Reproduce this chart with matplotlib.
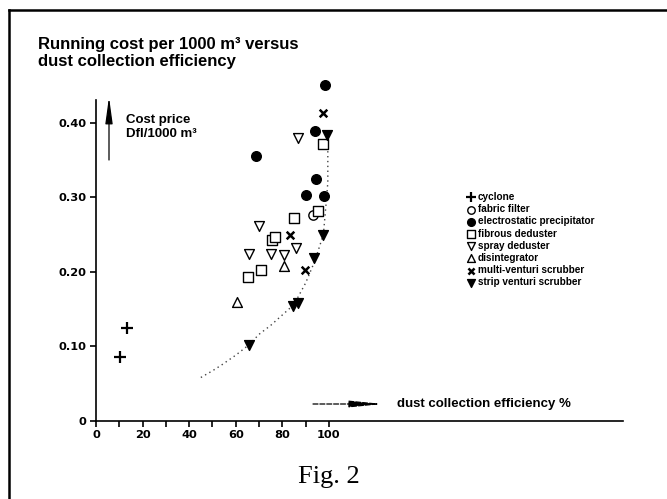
import matplotlib
matplotlib.use("Agg")
import matplotlib.pyplot as plt
from matplotlib.lines import Line2D

# Running cost (Dfl per 1000 m3) against collection efficiency (%)
cyclone_x = [10.3, 13.4]
cyclone_y = [0.085, 0.124]
fabric_x = [93.3]
fabric_y = [0.276]
electro_x = [98.3, 94.1, 68.5, 94.3, 90.0, 98.0]
electro_y = [0.450, 0.389, 0.355, 0.324, 0.303, 0.302]
fibrous_x = [97.3, 95.1, 85.1, 75.5, 76.9, 70.7, 65.4]
fibrous_y = [0.371, 0.281, 0.272, 0.2425, 0.246, 0.202, 0.193]
spray_x = [86.6, 70.0, 85.8, 65.5, 75.2, 80.5]
spray_y = [0.379, 0.262, 0.232, 0.224, 0.224, 0.223]
disint_x = [80.5, 60.4]
disint_y = [0.207, 0.160]
multi_x = [97.3, 83.1, 89.7]
multi_y = [0.413, 0.249, 0.202]
strip_x = [99.3, 97.6, 93.7, 84.7, 86.8, 65.7]
strip_y = [0.383, 0.249, 0.219, 0.154, 0.158, 0.1016]

# trend through the strip venturi scrubbers
trend_x = [45, 50, 54, 60, 65.7, 70, 75, 80, 85, 90, 92, 94, 97.6, 99, 99.5, 99.5]
trend_y = [0.058, 0.067, 0.075, 0.088, 0.102, 0.116, 0.128, 0.142, 0.156, 0.185,
           0.200, 0.215, 0.250, 0.300, 0.320, 0.385]

x_ticks = [0, 10, 20, 30, 40, 50, 60, 70, 80, 90, 100]
x_labels = ["0", "", "20", "", "40", "", "60", "", "80", "", "100"]
y_ticks = [0, 0.10, 0.20, 0.30, 0.40]
y_labels = ["0", "0.10", "0.20", "0.30", "0.40"]

W, H = 667, 499
fig = plt.figure(figsize=(W / 100, H / 100), dpi=100)
ax = fig.add_axes([96 / W, 1 - 420.7 / H, (623 - 96) / W, (420.7 - 100) / H])
ax.set_xlim(0, 226.2)
ax.set_ylim(0, 0.4305)

for s in ("top", "right"):
    ax.spines[s].set_visible(False)
for s in ("left", "bottom"):
    ax.spines[s].set_linewidth(1.2)

ax.set_xticks(x_ticks)
ax.set_xticklabels(x_labels)
ax.set_yticks(y_ticks)
ax.set_yticklabels(y_labels)
ax.tick_params(direction="out", length=4, width=1.2, pad=3)
for lab in ax.get_xticklabels() + ax.get_yticklabels():
    lab.set_fontfamily("DejaVu Sans")
    lab.set_fontweight("bold")
    lab.set_fontsize(8.2)

ax.plot(trend_x, trend_y, linestyle=(0, (1, 2.5)), color="#444444", lw=1.0,
        clip_on=False, zorder=1)

open_kw = dict(facecolor="white", edgecolor="black", linewidths=1.0, clip_on=False, zorder=3)
ax.scatter(cyclone_x, cyclone_y, marker="+", s=70, color="black", linewidths=1.6,
           clip_on=False, zorder=3, label="cyclone")
ax.scatter(fabric_x, fabric_y, marker="o", s=45, label="fabric filter", **open_kw)
ax.scatter(electro_x, electro_y, marker="o", s=48, color="black", clip_on=False,
           zorder=3, label="electrostatic precipitator")
ax.scatter(fibrous_x, fibrous_y, marker="s", s=45, label="fibrous deduster", **open_kw)
ax.scatter(spray_x, spray_y, marker="v", s=50, label="spray deduster", **open_kw)
ax.scatter(disint_x, disint_y, marker="^", s=50, label="disintegrator", **open_kw)
ax.scatter(multi_x, multi_y, marker="x", s=30, color="black", linewidths=1.8,
           clip_on=False, zorder=3, label="multi-venturi scrubber")
ax.scatter(strip_x, strip_y, marker="v", s=50, color="black", clip_on=False,
           zorder=3, label="strip venturi scrubber")

leg = ax.legend(loc="upper left", bbox_to_anchor=(467 / W, 1 - 192 / H),
                bbox_transform=fig.transFigure, frameon=False,
                prop={"family": "Liberation Sans", "weight": "bold", "size": 7.2},
                handlelength=0.8, handletextpad=0.3, labelspacing=0.22,
                borderpad=0, borderaxespad=0, scatterpoints=1, markerscale=0.8)

# title and axis captions (baseline is that of the last line)
fig.text(38 / W, 1 - 65.7 / H, "Running cost per 1000 m³ versus\ndust collection efficiency",
         family="Liberation Sans", weight="bold", fontsize=12, va="baseline",
         linespacing=1.15)
fig.text(126 / W, 1 - 137.3 / H, "Cost price\nDfl/1000 m³", family="Liberation Sans",
         weight="bold", fontsize=9.5, va="baseline", linespacing=1.2)
fig.text(397 / W, 1 - 404 / H, "dust collection efficiency %", family="Liberation Sans",
         weight="bold", fontsize=9.5, va="center")
fig.text(298 / W, 1 - 483 / H, "Fig. 2", family="Liberation Serif", fontsize=19,
         va="baseline")

# direction arrows next to the captions
ax.annotate("", xy=(109 / W, 1 - 97 / H), xytext=(109 / W, 1 - 160 / H),
            xycoords="figure fraction", textcoords="figure fraction",
            arrowprops=dict(arrowstyle="-|>,head_length=1.6,head_width=0.22",
                            color="black", lw=0.9, shrinkA=0, shrinkB=0))
ax.annotate("", xy=(383 / W, 1 - 404 / H), xytext=(313 / W, 1 - 404 / H),
            xycoords="figure fraction", textcoords="figure fraction",
            arrowprops=dict(arrowstyle="-|>,head_length=2.0,head_width=0.2",
                            color="black", lw=0.9, ls=(0, (4, 1.5)),
                            shrinkA=0, shrinkB=0))

# page border on the left and top
fig.add_artist(Line2D([9 / W, 9 / W], [0, 1 - 10 / H], color="black", lw=1.8))
fig.add_artist(Line2D([9 / W, 1], [1 - 10 / H, 1 - 10 / H], color="black", lw=1.8))

fig.savefig("out.png", dpi=100)
